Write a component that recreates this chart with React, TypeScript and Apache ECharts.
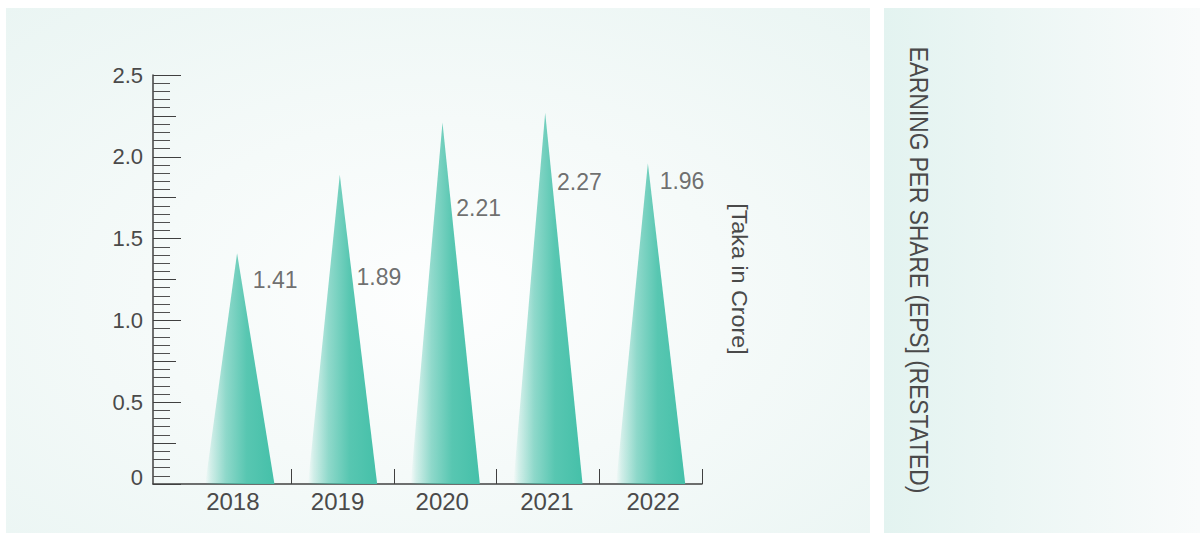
import React, { useEffect, useRef } from "react";
import * as echarts from "echarts";

const years = ["2018", "2019", "2020", "2021", "2022"];
const eps = [1.41, 1.89, 2.21, 2.27, 1.96];
const yTickLabels = ["0", "0.5", "1.0", "1.5", "2.0", "2.5"];
const yMax = 2.5;
const yStep = 0.5;
const unitLabel = "[Taka in Crore]";
const titleText = "EARNING PER SHARE (EPS] (RESTATED)";

// label placement (px offsets from each peak) – styling only
const valueLabelOffsets = [
  [13, 27],
  [14, 102],
  [11, 86],
  [9, 69],
  [9, 18],
];
const yearLabelShift = [-7, -5, -3, -1, 2.5];

const FONT = "'Liberation Sans', Arial, sans-serif";
const TXT = "#4a4a4a";
const AX = "#404040";

export default function App() {
  const ref = useRef<HTMLDivElement>(null);

  useEffect(() => {
    if (!ref.current) return;
    const chart = echarts.init(ref.current, undefined, { renderer: "svg" });

    const triGradient = {
      type: "linear",
      x: 0,
      y: 0,
      x2: 1,
      y2: 0,
      colorStops: [
        { offset: 0, color: "rgba(74,194,171,0)" },
        { offset: 0.08, color: "rgba(74,194,171,0.2)" },
        { offset: 0.3, color: "rgba(74,194,171,0.6)" },
        { offset: 0.6, color: "rgba(74,194,171,0.92)" },
        { offset: 1, color: "#45c0a9" },
      ],
    };

    const option: any = {
      animation: false,
      backgroundColor: "#ffffff",
      textStyle: { fontFamily: FONT },
      graphic: [
        {
          type: "rect",
          z: -100,
          shape: { x: 6, y: 8, width: 864, height: 525 },
          style: {
            fill: {
              type: "radial",
              x: 0.5,
              y: 0.55,
              r: 0.75,
              colorStops: [
                { offset: 0, color: "#fdfefe" },
                { offset: 0.45, color: "#f5faf9" },
                { offset: 1, color: "#eaf5f3" },
              ],
            },
          },
        },
        {
          type: "rect",
          z: -100,
          shape: { x: 884, y: 8, width: 316, height: 525 },
          style: {
            fill: {
              type: "linear",
              x: 0,
              y: 0,
              x2: 1,
              y2: 0,
              colorStops: [
                { offset: 0, color: "#e3f3f0" },
                { offset: 1, color: "#f9fbfb" },
              ],
            },
          },
        },
        {
          type: "text",
          z: 100,
          x: 740,
          y: 279,
          rotation: -Math.PI / 2,
          scaleX: 1.06,
          style: {
            text: unitLabel,
            fontSize: 22,
            fontFamily: FONT,
            fill: TXT,
            align: "center",
            verticalAlign: "middle",
          },
        },
        {
          type: "text",
          z: 100,
          x: 919,
          y: 270,
          rotation: -Math.PI / 2,
          scaleX: 0.91,
          style: {
            text: titleText,
            fontSize: 25,
            fontFamily: FONT,
            fill: TXT,
            align: "center",
            verticalAlign: "middle",
          },
        },
      ],
      grid: [
        { left: 153, top: 75, width: 549, height: 409 },
        { left: 188.5, top: 75, width: 513.5, height: 409 },
      ],
      xAxis: [
        {
          gridIndex: 0,
          type: "value",
          min: 0,
          max: 1,
          axisLine: { show: true, onZero: false, lineStyle: { color: AX, width: 1.5 } },
          axisTick: { show: false },
          axisLabel: { show: false },
          splitLine: { show: false },
        },
        {
          gridIndex: 1,
          type: "category",
          data: years.map((y, i) => ({
            value: y,
            textStyle: {
              padding:
                yearLabelShift[i] < 0
                  ? [0, -2 * yearLabelShift[i], 0, 0]
                  : [0, 0, 0, 2 * yearLabelShift[i]],
            },
          })),
          boundaryGap: true,
          axisLine: { show: false },
          axisTick: {
            show: true,
            inside: true,
            length: 15,
            interval: (i: number) => i > 0,
            lineStyle: { color: AX, width: 1 },
          },
          axisLabel: {
            show: true,
            fontSize: 24,
            color: TXT,
            fontFamily: FONT,
            margin: 5,
          },
          splitLine: { show: false },
        },
      ],
      yAxis: [
        {
          gridIndex: 0,
          type: "value",
          min: 0,
          max: yMax,
          interval: yStep,
          position: "left",
          axisLine: { show: true, onZero: false, lineStyle: { color: AX, width: 1.5 } },
          axisTick: { show: true, inside: true, length: 28, lineStyle: { color: AX, width: 1 } },
          minorTick: { show: true, splitNumber: 10, length: 17, lineStyle: { color: "#505050", width: 1 } },
          axisLabel: {
            show: true,
            fontSize: 22,
            color: TXT,
            fontFamily: FONT,
            margin: 10,
            formatter: (v: number) => {
              const i = Math.round(v / yStep);
              const t = yTickLabels[i] ?? String(v);
              return i === 0 ? "{z|" + t + "}" : t;
            },
            rich: {
              z: { fontSize: 22, color: TXT, fontFamily: FONT, padding: [0, 0, 14, 0] },
            },
          },
          splitLine: { show: false },
          minorSplitLine: { show: false },
        },
        {
          gridIndex: 0,
          type: "value",
          min: 0,
          max: yMax,
          interval: yStep / 2,
          position: "left",
          offset: 0,
          axisLine: { show: false },
          axisTick: { show: true, inside: true, length: 23, lineStyle: { color: AX, width: 1 } },
          axisLabel: { show: false },
          splitLine: { show: false },
        },
        {
          gridIndex: 1,
          type: "value",
          min: 0,
          max: yMax,
          show: false,
          splitLine: { show: false },
        },
      ],
      series: [
        {
          type: "pictorialBar",
          xAxisIndex: 1,
          yAxisIndex: 2,
          data: eps,
          symbol: "path://M0,100 L46,0 L100,100 Z",
          symbolSize: [69, "100%"],
          symbolPosition: "start",
          itemStyle: { color: triGradient },
          z: 3,
        },
        {
          type: "scatter",
          xAxisIndex: 1,
          yAxisIndex: 2,
          symbolSize: 0,
          z: 5,
          data: eps.map((v, i) => ({
            value: [years[i], v],
            label: {
              show: true,
              position: "right",
              distance: 0,
              offset: valueLabelOffsets[i],
              formatter: String(v.toFixed(2)),
              fontSize: 23,
              color: TXT,
              fontFamily: FONT,
              align: "left",
              verticalAlign: "middle",
            },
          })),
        },
      ],
    };

    chart.setOption(option);
    return () => chart.dispose();
  }, []);

  return (
    <div
      ref={ref}
      style={{ position: "absolute", left: 0, top: 0, width: 1200, height: 533 }}
    />
  );
}
